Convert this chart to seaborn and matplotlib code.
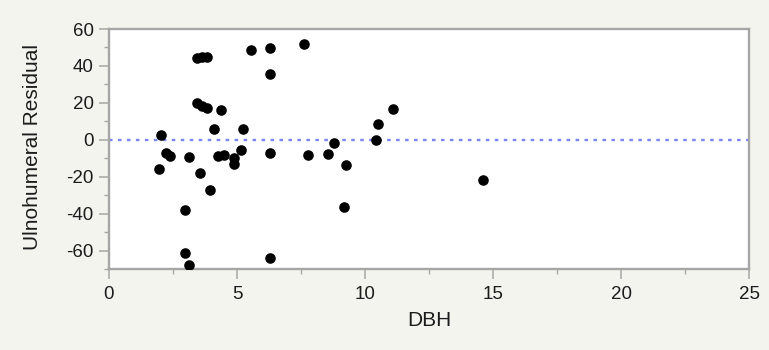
import matplotlib
matplotlib.use("Agg")
import matplotlib.pyplot as plt
from matplotlib.ticker import MultipleLocator
import pandas as pd
import seaborn as sns

# Residuals of the ulnohumeral fit against tree diameter
dbh = [1.94, 2.03, 2.21, 2.40, 2.96, 2.96, 3.12, 3.14, 3.42, 3.62, 3.81,
       3.44, 3.62, 3.81, 3.54, 3.96, 4.12, 4.25, 4.39, 4.51, 4.87, 4.87,
       5.16, 5.22, 5.55, 6.28, 6.28, 6.28, 6.30, 7.60, 7.76, 8.55, 8.78,
       9.19, 9.26, 10.43, 10.49, 11.09, 14.60]
residual = [-15.7, 2.8, -7.2, -8.6, -37.9, -61.1, -68.0, -9.4, 44.2, 44.8, 45.1,
            19.7, 18.2, 17.0, -17.9, -27.1, 5.6, -8.8, 16.1, -8.4, -9.9, -13.0,
            -5.7, 5.6, 48.4, 49.5, 35.5, -7.0, -64.3, 51.9, -8.4, -7.9, -1.7,
            -36.2, -13.7, -0.3, 8.4, 16.8, -21.7]

x_ticks = [0, 5, 10, 15, 20, 25]
y_ticks = [-60, -40, -20, 0, 20, 40, 60]

df = pd.DataFrame({"DBH": dbh, "Ulnohumeral Residual": residual})

sns.set_style("white")
plt.rcParams["font.family"] = ["Liberation Sans", "DejaVu Sans"]
plt.rcParams["axes.unicode_minus"] = False

bg = "#f4f4ef"
frame = "#a6a6a6"
ink = "#1c1c1c"
fig = plt.figure(figsize=(7.69, 3.5), dpi=100, facecolor=bg)
ax = fig.add_axes([109 / 769, 1 - 269 / 350, 640 / 769, 240 / 350])
ax.set_facecolor("white")

ax.axhline(0, color="#7c85f5", lw=1.7, ls=(0, (1.5, 2.3)), zorder=1)
sns.scatterplot(data=df, x="DBH", y="Ulnohumeral Residual", ax=ax,
                color="black", s=58, edgecolor="black", linewidth=0, zorder=3)

ax.set_xlim(0, 25)
ax.set_ylim(-70, 60)
ax.set_xticks(x_ticks)
ax.set_yticks(y_ticks)
ax.xaxis.set_minor_locator(MultipleLocator(2.5))
ax.yaxis.set_minor_locator(MultipleLocator(10))

for side in ["left", "bottom", "top", "right"]:
    ax.spines[side].set_visible(True)
    ax.spines[side].set_color(frame)
    ax.spines[side].set_linewidth(1.7)

ax.tick_params(axis="both", which="major", direction="out", length=7.5,
               width=1.1, color=frame, labelsize=13.5, labelcolor=ink,
               bottom=True, left=True)
ax.tick_params(axis="x", which="major", pad=4.5)
ax.tick_params(axis="y", which="major", pad=3.5)
ax.tick_params(axis="both", which="minor", direction="out", length=3.8,
               width=1.0, color=frame, bottom=True, left=True)

ax.set_xlabel("DBH", fontsize=15, color=ink, labelpad=6)
ax.set_ylabel("Ulnohumeral Residual", fontsize=15, color=ink)
ax.yaxis.set_label_coords(-0.105, 0.51)

fig.savefig("out.png", dpi=100, facecolor=bg)
